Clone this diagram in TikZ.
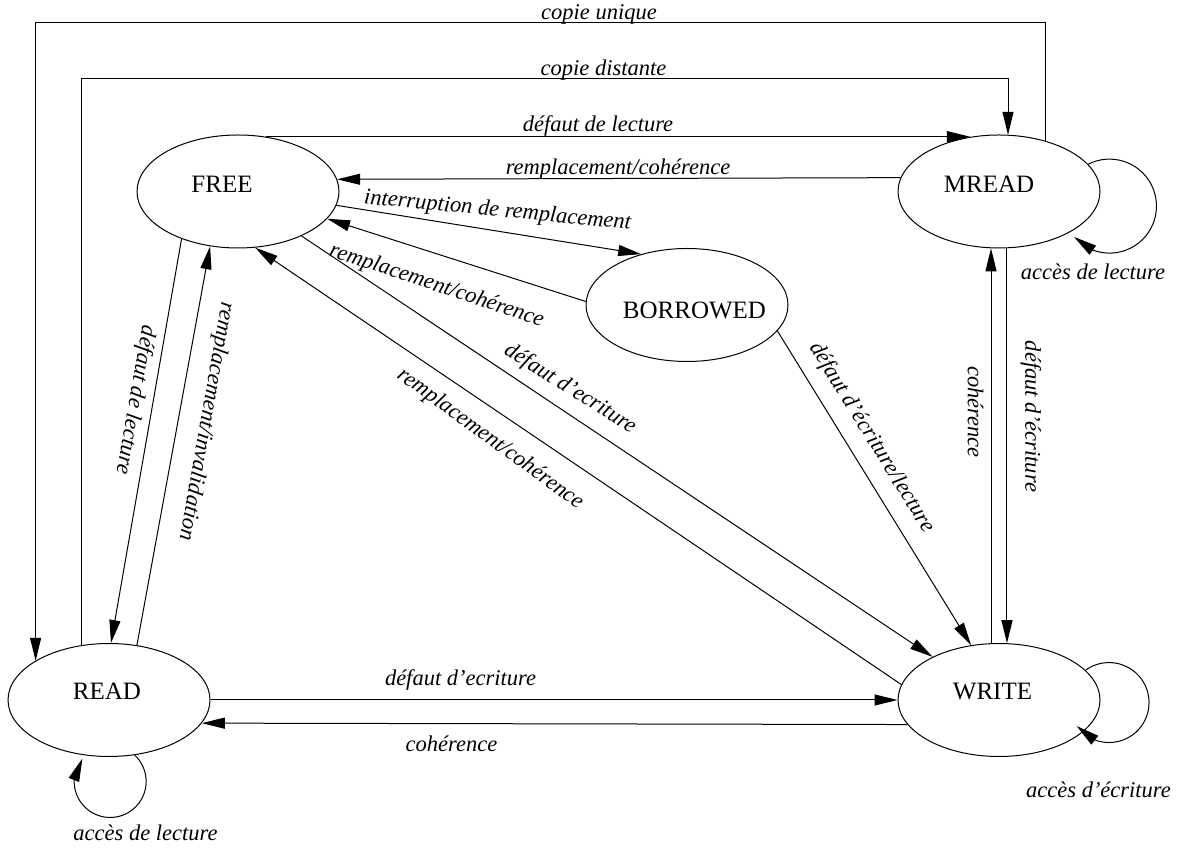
\documentclass[tikz,border=0pt]{standalone}
\usepackage{fontspec}
\setmainfont{Liberation Serif}
\usetikzlibrary{arrows.meta,shapes.geometric,bending}

\begin{document}
\begin{tikzpicture}[x=1pt,y=1pt,
  state/.style={draw, ellipse, line width=1pt, minimum width=202pt, minimum height=113pt, inner sep=0pt},
  statename/.style={anchor=base, font=\fontsize{25}{30}\selectfont, inner sep=0pt},
  lbl/.style={font=\fontsize{22.5}{27}\selectfont\itshape, inner sep=0pt},
  arr/.style={line width=1pt, -{Triangle[length=23pt,width=11pt]}},
  wire/.style={line width=1pt}
]
\useasboundingbox (0,0) rectangle (1180,848);

% states
\node[state] (FREE)     at (238,656.5) {};
\node[state] (MREAD)    at (999,656.5) {};
\node[state] (BORROWED) at (687,543)   {};
\node[state] (READ)     at (109,148)   {};
\node[state] (WRITE)    at (999,148)   {};

\node[statename] (tFREE)     at (222,655)   {FREE};
\node[statename] (tMREAD)    at (989,655)   {MREAD};
\node[statename] (tBORROWED) at (694.5,529) {BORROWED};
\node[statename] (tREAD)     at (107,148)   {READ};
\node[statename] (tWRITE)    at (992.5,148) {WRITE};

% corner points of the two long outer connectors
\coordinate (cuR) at (1045,825.7);
\coordinate (cuL) at (35.6,825.7);
\coordinate (cdL) at (81.5,769);
\coordinate (cdR) at (1008,769);

% copie unique : MREAD -> READ
\draw[arr] (cuR |- MREAD.47.7) -- (cuR) -- (cuL) -- (cuL |- READ.152.1);
\node[lbl, anchor=base] (lcu) at (599,828.5) {copie unique};

% copie distante : READ -> MREAD
\draw[arr] (cdL |- READ.116.8) -- (cdL) -- (cdR) -- (cdR |- MREAD.80.9);
\node[lbl, anchor=base] (lcd) at (603.5,772) {copie distante};

% FREE <-> MREAD
\draw[arr] (FREE.63.6) -- (FREE.63.6 -| MREAD.118);
\node[lbl, anchor=base] (ldl) at (598,716.5) {défaut de lecture};
\draw[arr] (MREAD.172.2) -- (FREE.7.8);
\node[lbl, anchor=base] (lrc) at (618,673) {remplacement/cohérence};

% FREE <-> BORROWED
\draw[arr] (FREE.-8.45) -- (BORROWED.132.4);
\node[lbl, rotate=-5.5] (lir) at (497.5,637) {interruption de remplacement};
\draw[arr] (BORROWED.178) -- (FREE.-17.2);
\node[lbl, rotate=-18.5] (lrcb) at (436.5,562) {remplacement/cohérence};

% FREE <-> WRITE
\draw[arr] (FREE.-35.4) -- (WRITE.147.8);
\node[lbl, rotate=-32] (ldefw) at (570,459) {défaut d'ecriture};
\draw[arr] (WRITE.171.9) -- (FREE.-73.3);
\node[lbl, rotate=-36] (lrcw) at (490,409) {remplacement/cohérence};

% BORROWED -> WRITE
\draw[arr] (BORROWED.-16.9) -- (WRITE.117.4);
\node[lbl, rotate=-58.3] (ldel) at (871.5,410.5) {défaut d'écriture/lecture};

% FREE <-> READ
\draw[arr] (FREE.-140.2) -- (READ.88);
\node[lbl, rotate=-100] (ldlr) at (135,448) {défaut de lecture};
\draw[arr] (READ.63.6) -- (FREE.-117.3);
\node[lbl, rotate=-100] (lri) at (206,426.5) {remplacement/invalidation};

% READ <-> WRITE
\draw[arr] (READ.east) -- (WRITE.west);
\node[lbl, anchor=base] (ldw) at (460.5,162) {défaut d'ecriture};
\draw[arr] (WRITE.-165.3) -- (READ.-14.7);
\node[lbl, anchor=base] (lco) at (451.5,96.3) {cohérence};

% MREAD <-> WRITE
\draw[arr] (WRITE.98.1) -- (MREAD.-98.1);
\node[lbl, rotate=-90] (lcov) at (975.5,436) {cohérence};
\draw[arr] (MREAD.-82.9) -- (WRITE.82.9);
\node[lbl, rotate=-90] (ldwv) at (1031,431.5) {défaut d'écriture};

% self loops
\draw[arr] (MREAD.17) arc[start angle=117, end angle=-139, radius=47pt];
\node[lbl, anchor=base] (lam) at (1093,568) {accès de lecture};
\draw[arr] (WRITE.19) arc[start angle=126, end angle=-144, radius=40pt];
\node[lbl, anchor=base] (law) at (1098.5,50) {accès d'écriture};
\draw[arr] (READ.-65) arc[start angle=47, end angle=-219.5, radius=36pt];
\node[lbl, anchor=base] (lar) at (145.5,7.3) {accès de lecture};
\end{tikzpicture}
\end{document}
